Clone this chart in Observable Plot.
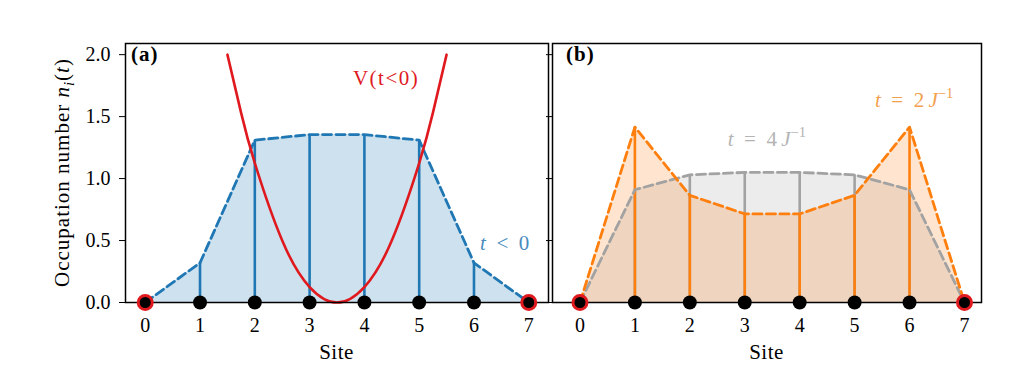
<!DOCTYPE html>
<html><head><meta charset="utf-8">
<script src="https://cdn.jsdelivr.net/npm/d3@7"></script>
<script src="https://cdn.jsdelivr.net/npm/@observablehq/plot@0.6"></script>
<style>
body{margin:0;background:#fff;}
#wrap{display:flex;width:1028px;height:383px;}
</style></head><body><div id="wrap"></div>
<script>
// ---- data ----
const sites = [0, 1, 2, 3, 4, 5, 6, 7];
const nBefore = [0, 0.32, 1.31, 1.355, 1.355, 1.31, 0.32, 0];   // t < 0
const nT2 = [0, 1.415, 0.865, 0.715, 0.715, 0.865, 1.415, 0];  // t = 2/J
const nT4 = [0, 0.91, 1.03, 1.05, 1.05, 1.03, 0.91, 0];        // t = 4/J
const potSite = [1.5, 1.75, 2, 2.5, 3, 3.5, 4, 4.5, 5, 5.25, 5.5];
const potV = [2.0, 1.53, 1.125, 0.5, 0.125, 0, 0.125, 0.5, 1.125, 1.53, 2.0];
const yTicks = [0, 0.5, 1.0, 1.5, 2.0];
const edgeSites = [0, 7];

const C = {blue: "#1f77b4", red: "#e0191e", orange: "#ff7f0e", gray: "#a2a2a2",
           blueText: "#4a8bbd", orangeText: "#f3a04e", grayText: "#b4b4b4"};
const FONT = "'Liberation Serif', 'Times New Roman', serif";

const rowsA = sites.map((s, i) => ({s, n: nBefore[i]}));
const rows2 = sites.map((s, i) => ({s, n: nT2[i]}));
const rows4 = sites.map((s, i) => ({s, n: nT4[i]}));
const pot = potSite.map((s, i) => ({s, v: potV[i]}));
const inner = sites.filter(s => !edgeSites.includes(s));

function dots() {
  return [
    Plot.dot(inner, {x: d => d, y: 0, r: 7, fill: "#000"}),
    Plot.dot(edgeSites, {x: d => d, y: 0, r: 7, fill: "#000", stroke: C.red, strokeWidth: 3})
  ];
}

const common = {
  height: 383, marginTop: 43, marginBottom: 81,
  style: {fontFamily: FONT, fontSize: "20px", color: "#000", background: "transparent", overflow: "visible"},
  y: {domain: [0, 2.09]}
};

const pa = Plot.plot({
  ...common,
  width: 550, marginLeft: 125, marginRight: 2,
  x: {domain: [-0.36, 7.36]},
  marks: [
    Plot.areaY(rowsA, {x: "s", y: "n", fill: C.blue, fillOpacity: 0.22}),
    Plot.ruleX(rowsA, {x: "s", y1: 0, y2: "n", stroke: C.blue, strokeWidth: 2.6}),
    Plot.line(rowsA, {x: "s", y: "n", stroke: C.blue, strokeWidth: 2.8, strokeDasharray: "9,4.5"}),
    Plot.line(pot, {x: "s", y: "v", curve: "natural", stroke: C.red, strokeWidth: 2.6}),
    Plot.frame({stroke: "#000", strokeWidth: 1.5}),
    Plot.axisX({ticks: sites, tickSize: 6, tickPadding: 9, tickFormat: d => String(d), label: null}),
    Plot.axisY({ticks: yTicks, tickSize: 6, tickPadding: 9, tickFormat: d3.format(".1f"), label: null}),
    ...dots()
  ]
});

const pb = Plot.plot({
  ...common,
  width: 478, marginLeft: 2, marginRight: 47,
  x: {domain: [-0.5, 7.31]},
  marks: [
    Plot.areaY(rows4, {x: "s", y: "n", fill: C.gray, fillOpacity: 0.2}),
    Plot.areaY(rows2, {x: "s", y: "n", fill: C.orange, fillOpacity: 0.2}),
    Plot.ruleX(rows4, {x: "s", y1: 0, y2: "n", stroke: C.gray, strokeWidth: 2.6}),
    Plot.ruleX(rows2, {x: "s", y1: 0, y2: "n", stroke: C.orange, strokeWidth: 2.6}),
    Plot.line(rows4, {x: "s", y: "n", stroke: C.gray, strokeWidth: 2.8, strokeDasharray: "9,4.5"}),
    Plot.line(rows2, {x: "s", y: "n", stroke: C.orange, strokeWidth: 2.8, strokeDasharray: "9,4.5"}),
    Plot.frame({stroke: "#000", strokeWidth: 1.5}),
    Plot.axisX({ticks: sites, tickSize: 6, tickPadding: 9, tickFormat: d => String(d), label: null}),
    Plot.axisY({ticks: yTicks, tickSize: 6, tickFormat: () => "", label: null}),
    ...dots()
  ]
});

document.getElementById("wrap").append(pa, pb);

// ---- rich text annotations placed through the plots' scales ----
function rich(svg, x, y, parts, o = {}) {
  const size = o.size || 20;
  const t = d3.select(svg).append("text")
    .attr("x", x).attr("y", y)
    .attr("fill", o.color || "#000")
    .attr("font-family", FONT)
    .attr("font-size", size)
    .attr("text-anchor", o.anchor || "start");
  if (o.weight) t.attr("font-weight", o.weight);
  if (o.spacing) t.attr("letter-spacing", o.spacing);
  if (o.rotate) t.attr("transform", `rotate(${o.rotate},${x},${y})`);
  let shift = 0;
  for (const p of parts) {
    const ts = t.append("tspan").text(p.t);
    if (p.i) ts.attr("font-style", "italic");
    const target = p.sub ? size * 0.25 : p.sup ? -size * 0.42 : 0;
    if (target !== shift) ts.attr("dy", target - shift);
    shift = target;
    if (p.sub || p.sup) ts.attr("font-size", size * 0.7);
  }
  return t;
}

const xa = pa.scale("x"), ya = pa.scale("y");
const xb = pb.scale("x"), yb = pb.scale("y");
const SP = "\u2002"; // en space, for math-style spacing around relations

// panel labels
rich(pa, xa.apply(-0.36) + 6, ya.apply(2.09) + 18, [{t: "(a)"}], {weight: "bold", size: 21, spacing: 1});
rich(pb, xb.apply(-0.5) + 14, yb.apply(2.09) + 18, [{t: "(b)"}], {weight: "bold", size: 21, spacing: 1});

// curve annotations
rich(pa, xa.apply(3.8), ya.apply(1.75), [{t: "V(t<0)"}], {color: C.red, size: 21, spacing: 1.5});
rich(pa, xa.apply(6.12), ya.apply(0.42), [{t: "t", i: true}, {t: SP + "<" + SP + "0"}], {color: C.blueText, size: 21});
rich(pb, xb.apply(5.38), yb.apply(1.576), [{t: "t", i: true}, {t: SP + "=" + SP + "2\u2009"}, {t: "J", i: true}, {t: "−1", sup: true}], {color: C.orangeText, size: 21});
rich(pb, xb.apply(2.70), yb.apply(1.26), [{t: "t", i: true}, {t: SP + "=" + SP + "4\u2009"}, {t: "J", i: true}, {t: "−1", sup: true}], {color: C.grayText, size: 21});

// axis titles
const midA = (xa.range[0] + xa.range[1]) / 2, midB = (xb.range[0] + xb.range[1]) / 2;
rich(pa, midA, 359, [{t: "Site"}], {anchor: "middle", size: 21, spacing: 0.5});
rich(pb, midB, 359, [{t: "Site"}], {anchor: "middle", size: 21, spacing: 0.5});
rich(pa, 69, (ya.range[0] + ya.range[1]) / 2,
  [{t: "Occupation number "}, {t: "n", i: true}, {t: "i", i: true, sub: true}, {t: "("}, {t: "t", i: true}, {t: ")"}],
  {anchor: "middle", rotate: -90, size: 21, spacing: 1});
</script></body></html>
